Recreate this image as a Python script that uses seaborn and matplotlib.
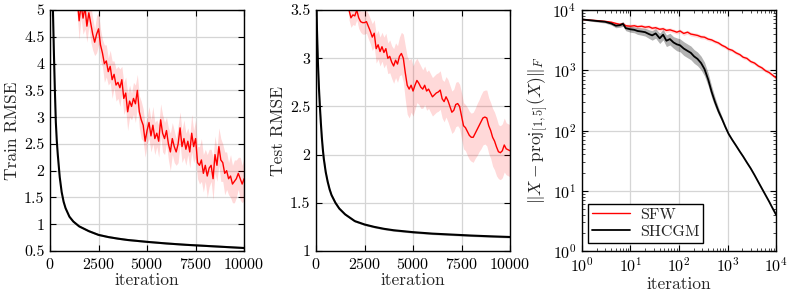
import numpy as np
import pandas as pd
import seaborn as sns
import matplotlib
matplotlib.use('Agg')
import matplotlib.pyplot as plt
from matplotlib.ticker import FormatStrFormatter, LogLocator, NullFormatter

sns.set_theme(style='ticks')
plt.rcParams['font.family'] = ['cmr10', 'DejaVu Serif']
plt.rcParams['mathtext.fontset'] = 'cm'
plt.rcParams['axes.formatter.use_mathtext'] = True
plt.rcParams['axes.unicode_minus'] = False

# ---- data ----
# black curves (SHCGM), linear panels
it_black = [0, 50, 100, 150, 200, 250, 300, 350, 400, 500, 600, 700, 800, 1000, 1200,
            1500, 2000, 2500, 3000, 3500, 4000, 5000, 6000, 7000, 8000, 9000, 10000]
train_shcgm = [7.2, 6.4, 5.7, 5.0, 4.2, 3.5, 2.9, 2.55, 2.3, 1.88, 1.6, 1.42, 1.3, 1.14, 1.05,
               0.96, 0.87, 0.8, 0.76, 0.73, 0.705, 0.67, 0.64, 0.615, 0.595, 0.575, 0.555]
train_shcgm_std = [0.1, 0.1, 0.1, 0.1, 0.08, 0.08, 0.07, 0.06, 0.05, 0.04, 0.03, 0.03, 0.03, 0.02, 0.02,
                   0.02, 0.02, 0.02, 0.02, 0.02, 0.02, 0.02, 0.02, 0.02, 0.02, 0.02, 0.02]
test_shcgm = [3.8, 3.3, 2.95, 2.7, 2.5, 2.33, 2.18, 2.06, 1.96, 1.82, 1.72, 1.64, 1.58, 1.5, 1.44,
              1.38, 1.31, 1.275, 1.25, 1.23, 1.215, 1.195, 1.18, 1.17, 1.16, 1.152, 1.145]
test_shcgm_std = [0.06, 0.06, 0.05, 0.05, 0.04, 0.04, 0.03, 0.03, 0.03, 0.02, 0.02, 0.02, 0.015, 0.015, 0.01,
                  0.01, 0.01, 0.01, 0.01, 0.01, 0.01, 0.01, 0.01, 0.01, 0.01, 0.01, 0.01]

# red curves (SFW), linear panels
it_train_sfw = np.arange(1400, 10001, 100)
train_sfw = [5.2, 4.8, 5.1, 4.85, 5.05, 4.7, 4.95, 4.75, 4.55, 4.4, 4.55, 4.65, 4.35, 4.2, 4.0,
             4.05, 3.85, 3.95, 3.7, 3.8, 3.6, 3.65, 3.55, 3.7, 3.35, 3.45, 3.1, 3.3, 3.2, 3.35,
             3.25, 3.5, 3.1, 2.95, 2.85, 2.55, 2.75, 2.9, 2.65, 2.85, 2.6, 2.7, 2.55, 2.95, 2.7,
             2.6, 2.75, 2.5, 2.35, 2.6, 2.45, 2.35, 2.5, 2.8, 2.45, 2.6, 2.4, 2.55, 2.35, 2.7,
             2.45, 2.6, 2.15, 2.1, 2.2, 1.95, 2.1, 1.9, 2.05, 2.1, 1.85, 2.3, 2.1, 2.45, 2.2,
             2.15, 1.95, 2.0, 1.85, 1.9, 1.75, 1.8, 1.85, 1.95, 1.85, 1.75, 1.85]
train_sfw_std = [0.3, 0.35, 0.25, 0.3, 0.4, 0.3, 0.25, 0.35, 0.3, 0.25, 0.35, 0.3, 0.3, 0.25, 0.35,
                 0.3, 0.25, 0.3, 0.35, 0.25, 0.3, 0.3, 0.35, 0.25, 0.3, 0.3, 0.35, 0.3, 0.25, 0.3,
                 0.35, 0.3, 0.3, 0.35, 0.3, 0.3, 0.25, 0.3, 0.3, 0.35, 0.3, 0.25, 0.3, 0.3, 0.35,
                 0.3, 0.25, 0.3, 0.35, 0.3, 0.3, 0.25, 0.35, 0.3, 0.3, 0.35, 0.3, 0.25, 0.3, 0.35,
                 0.3, 0.35, 0.3, 0.35, 0.4, 0.35, 0.3, 0.4, 0.35, 0.3, 0.4, 0.35, 0.3, 0.35, 0.4,
                 0.35, 0.4, 0.35, 0.3, 0.4, 0.35, 0.4, 0.35, 0.3, 0.4, 0.35, 0.4]

it_test_sfw = np.arange(1700, 10001, 100)
test_sfw = [3.5, 3.42, 3.45, 3.44, 3.5, 3.42, 3.38, 3.37, 3.37, 3.38, 3.33, 3.28, 3.22, 3.26, 3.1,
            3.14, 3.07, 3.12, 3.06, 3.1, 3.0, 3.02, 2.96, 2.92, 2.98, 2.94, 3.02, 3.05, 3.0, 2.85,
            2.72, 2.68, 2.72, 2.66, 2.72, 2.77, 2.74, 2.7, 2.68, 2.72, 2.66, 2.68, 2.64, 2.6, 2.62,
            2.64, 2.65, 2.67, 2.58, 2.55, 2.6, 2.56, 2.5, 2.44, 2.46, 2.52, 2.53, 2.5, 2.4, 2.3,
            2.28, 2.24, 2.2, 2.18, 2.18, 2.22, 2.26, 2.3, 2.34, 2.38, 2.39, 2.38, 2.3, 2.25, 2.18,
            2.14, 2.08, 2.03, 2.02, 2.04, 2.1, 2.06, 2.05, 2.04]
test_sfw_std = [0.1, 0.1, 0.1, 0.1, 0.1, 0.11, 0.11, 0.12, 0.12, 0.12, 0.13, 0.13, 0.14, 0.14, 0.15,
                0.15, 0.15, 0.15, 0.16, 0.16, 0.16, 0.17, 0.17, 0.18, 0.18, 0.19, 0.2, 0.22, 0.25, 0.28,
                0.3, 0.3, 0.28, 0.26, 0.25, 0.23, 0.22, 0.22, 0.2, 0.2, 0.2, 0.2, 0.2, 0.2, 0.2,
                0.2, 0.2, 0.2, 0.2, 0.21, 0.21, 0.22, 0.22, 0.22, 0.22, 0.23, 0.23, 0.23, 0.24, 0.24,
                0.24, 0.25, 0.25, 0.25, 0.26, 0.26, 0.27, 0.27, 0.28, 0.28, 0.28, 0.29, 0.29, 0.29, 0.3,
                0.3, 0.3, 0.28, 0.28, 0.28, 0.28, 0.27, 0.27, 0.27]

# log panel: distance to feasible set
it_log = [1, 2, 3, 4, 5, 6, 7, 8, 10, 12, 14, 17, 20, 24, 28, 33, 40, 47, 55, 65, 77, 90, 105,
          125, 150, 175, 205, 240, 285, 335, 400, 470, 550, 650, 770, 900, 1050, 1250, 1500,
          1800, 2100, 2500, 3000, 3600, 4300, 5100, 6100, 7200, 8500, 10000]
dist_sfw = [7000, 6700, 6500, 6300, 6000, 5800, 5900, 5500, 5400, 5500, 5300, 5400, 5200, 5300,
            5000, 5100, 4800, 4900, 4600, 4700, 4500, 4300, 4500, 4100, 4300, 4000, 3900, 3800,
            3600, 3550, 3300, 3200, 3000, 2850, 2600, 2450, 2250, 2150, 1950, 1820, 1650, 1580,
            1400, 1320, 1180, 1100, 980, 920, 830, 750]
dist_sfw_rel = [0.02, 0.03, 0.04, 0.05, 0.06, 0.06, 0.07, 0.07, 0.08, 0.08, 0.08, 0.08, 0.08, 0.08,
                0.08, 0.08, 0.08, 0.08, 0.08, 0.08, 0.08, 0.08, 0.08, 0.08, 0.08, 0.08, 0.08, 0.08,
                0.08, 0.08, 0.07, 0.07, 0.07, 0.07, 0.07, 0.07, 0.07, 0.07, 0.07, 0.07, 0.07, 0.07,
                0.07, 0.07, 0.07, 0.07, 0.07, 0.07, 0.07, 0.07]
dist_shcgm = [7000, 6600, 6400, 6000, 5500, 5600, 5900, 5000, 4800, 4700, 4500, 4400, 4300, 4000,
              3800, 4100, 3400, 3900, 3100, 3300, 2900, 2700, 2600, 2300, 2100, 1950, 1700, 1550,
              1320, 1050, 700, 440, 300, 210, 155, 115, 88, 70, 56, 44.5, 37, 29.5, 23.5, 18.2,
              14, 10.9, 8.4, 6.6, 5.1, 4.0]
dist_shcgm_rel = [0.02, 0.04, 0.05, 0.06, 0.08, 0.08, 0.1, 0.1, 0.12, 0.12, 0.14, 0.15, 0.16, 0.18,
                  0.2, 0.2, 0.22, 0.22, 0.25, 0.25, 0.25, 0.28, 0.28, 0.3, 0.3, 0.3, 0.3, 0.3,
                  0.3, 0.3, 0.28, 0.25, 0.2, 0.15, 0.1, 0.08, 0.06, 0.05, 0.05, 0.05, 0.05, 0.05,
                  0.05, 0.05, 0.05, 0.05, 0.05, 0.05, 0.05, 0.05]

RED = '#ff0000'
BLACK = '#000000'


def band_frame(x, y, s):
    y = np.asarray(y, float)
    s = np.asarray(s, float)
    return pd.DataFrame({'it': x, 'y': y, 'lo': y - s, 'hi': y + s})


def band_frame_log(x, y, r):
    y = np.asarray(y, float)
    r = np.asarray(r, float)
    return pd.DataFrame({'it': x, 'y': y, 'lo': y / (1 + r), 'hi': y * (1 + r)})


def draw(ax, df, color, lw, alpha, label=None):
    ax.fill_between(df['it'], df['lo'], df['hi'], color=color, alpha=alpha, lw=0)
    sns.lineplot(data=df, x='it', y='y', color=color, lw=lw, ax=ax, label=label)


def style(ax):
    ax.grid(True, which='major', color='#d5d5d5', lw=0.9)
    ax.set_axisbelow(True)
    ax.tick_params(direction='in', top=True, right=True, length=4, width=0.8,
                   labelsize=11.5, colors='black', pad=4)
    ax.tick_params(which='minor', direction='in', top=True, right=True, length=2, width=0.6)
    for sp in ax.spines.values():
        sp.set_color('black')
        sp.set_linewidth(1.0)
    ax.set_xlabel('iteration', fontsize=12.5, labelpad=1)


fig = plt.figure(figsize=(7.89, 2.97), dpi=100)
w, h, b = 0.246, 0.811, 0.155
ax1 = fig.add_axes([0.0634, b, w, h])
ax2 = fig.add_axes([0.4005, b, w, h])
ax3 = fig.add_axes([0.7376, b, w, h])

# panel 1: train RMSE
draw(ax1, band_frame(it_train_sfw, train_sfw, train_sfw_std), RED, 1.0, 0.15)
draw(ax1, band_frame(it_black, train_shcgm, train_shcgm_std), BLACK, 1.5, 0.3)
ax1.set_xlim(0, 10000)
ax1.set_ylim(0.5, 5)
ax1.set_xticks([0, 2500, 5000, 7500, 10000])
ax1.set_yticks(np.arange(0.5, 5.01, 0.5))
ax1.yaxis.set_major_formatter(FormatStrFormatter('%g'))
style(ax1)
ax1.set_ylabel('Train RMSE', fontsize=12.5, labelpad=3)

# panel 2: test RMSE
draw(ax2, band_frame(it_test_sfw, test_sfw, test_sfw_std), RED, 1.0, 0.15)
draw(ax2, band_frame(it_black, test_shcgm, test_shcgm_std), BLACK, 1.5, 0.3)
ax2.set_xlim(0, 10000)
ax2.set_ylim(1, 3.5)
ax2.set_xticks([0, 2500, 5000, 7500, 10000])
ax2.set_yticks(np.arange(1, 3.51, 0.5))
ax2.yaxis.set_major_formatter(FormatStrFormatter('%g'))
style(ax2)
ax2.set_ylabel('Test RMSE', fontsize=12.5, labelpad=3)

# panel 3: distance to [1,5] box
draw(ax3, band_frame_log(it_log, dist_sfw, dist_sfw_rel), RED, 1.0, 0.15, 'SFW')
draw(ax3, band_frame_log(it_log, dist_shcgm, dist_shcgm_rel), BLACK, 1.3, 0.3, 'SHCGM')
ax3.set_xscale('log')
ax3.set_yscale('log')
ax3.set_xlim(1, 1e4)
ax3.set_ylim(1, 1e4)
for axis in (ax3.xaxis, ax3.yaxis):
    axis.set_major_locator(LogLocator(base=10, numticks=10))
    axis.set_minor_locator(LogLocator(base=10, subs=np.arange(2, 10), numticks=10))
    axis.set_minor_formatter(NullFormatter())
style(ax3)
ax3.set_ylabel(r'$\|X - \mathrm{proj}_{[1,5]}(X)\|_F$', fontsize=12.5, labelpad=2)
leg = ax3.legend(loc='lower left', bbox_to_anchor=(0.03, 0.035), fontsize=11.5,
                 frameon=True, fancybox=False, framealpha=1, edgecolor='black',
                 handlelength=2.4, borderpad=0.25, labelspacing=0.15, borderaxespad=0,
                 handletextpad=0.6)
leg.get_frame().set_linewidth(1.0)

fig.savefig('out.png', dpi=100)
